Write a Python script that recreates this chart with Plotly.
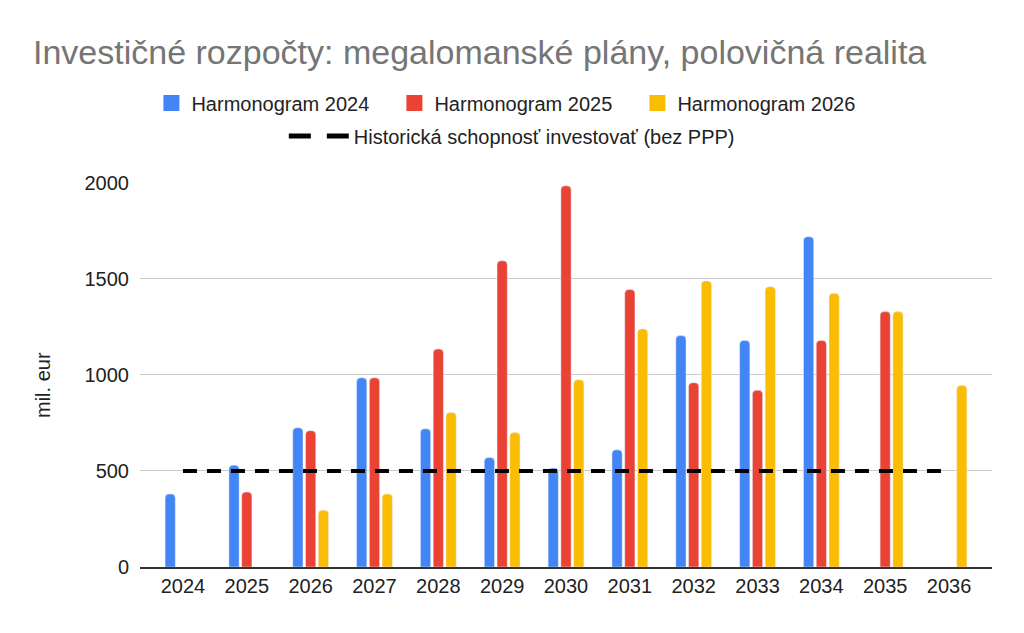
import plotly.graph_objects as go

years = ["2024", "2025", "2026", "2027", "2028", "2029", "2030",
         "2031", "2032", "2033", "2034", "2035", "2036"]

# mil. eur, None = no value for that year
harm_2024 = [380, 530, 725, 985, 720, 570, 515, 610, 1205, 1180, 1720, None, None]
harm_2025 = [None, 390, 710, 985, 1135, 1595, 1985, 1445, 960, 920, 1180, 1330, None]
harm_2026 = [None, None, 295, 380, 805, 700, 975, 1240, 1490, 1460, 1425, 1330, 945]
historical = [500] * len(years)

series = [
    ("Harmonogram 2024", harm_2024, "#4285F4"),
    ("Harmonogram 2025", harm_2025, "#EA4335"),
    ("Harmonogram 2026", harm_2026, "#FBBC04"),
]
line_name = "Historická schopnosť investovať (bez PPP)"

font_family = "Liberation Sans, Arial, sans-serif"

fig = go.Figure()

for name, vals, color in series:
    fig.add_trace(go.Bar(x=years, y=vals, name=name, marker_color=color,
                         showlegend=False))
fig.add_trace(go.Scatter(x=years, y=historical, mode="lines", name=line_name,
                         line=dict(color="black", width=4, dash="14px,10px"),
                         showlegend=False))

# legend entries (bigger swatches like the original)
for name, vals, color in series:
    fig.add_trace(go.Scatter(x=[None], y=[None], mode="markers", name=name,
                             marker=dict(symbol="square", size=16, color=color),
                             legend="legend"))
fig.add_trace(go.Scatter(x=[None], y=[None], mode="lines", name=line_name,
                         line=dict(color="black", width=5, dash="22px,16px"),
                         legend="legend2"))

fig.update_layout(
    width=1024, height=633,
    margin=dict(l=132, r=40, t=174, b=74),
    paper_bgcolor="white", plot_bgcolor="white",
    font=dict(family=font_family, size=20, color="#222222"),
    barmode="group", bargap=0.4, bargroupgap=0.2, barcornerradius=4,
    title=dict(text="Investičné rozpočty: megalomanské plány, polovičná realita",
               x=25 / 1024, xref="container", xanchor="left",
               y=1 - 44 / 633, yref="container", yanchor="middle",
               font=dict(size=34, color="#757575")),
    legend=dict(orientation="h", xref="container", x=0.496, xanchor="center",
                yref="container", y=1 - 95 / 633, yanchor="middle",
                font=dict(size=20), itemwidth=30, entrywidth=198,
                bgcolor="rgba(0,0,0,0)"),
    legend2=dict(orientation="h", xref="container", x=0.492, xanchor="center",
                 yref="container", y=1 - 128 / 633, yanchor="middle",
                 font=dict(size=20), itemwidth=60, bgcolor="rgba(0,0,0,0)"),
    annotations=[dict(text="mil. eur", textangle=-90, showarrow=False,
                      xref="paper", yref="paper", x=(43 - 140) / 852,
                      y=(567 - 385) / 385, xanchor="center", yanchor="middle",
                      font=dict(size=20))],
)

fig.update_xaxes(type="category", range=[-0.673, 12.673], showgrid=False,
                 showline=True, linecolor="#333333", linewidth=2, ticks="",
                 tickfont=dict(size=20))
fig.update_yaxes(range=[0, 2005], tickvals=[0, 500, 1000, 1500, 2000],
                 showgrid=True, gridcolor="#cccccc", gridwidth=1,
                 zeroline=False, showline=False, ticks="", ticklabelstandoff=10)

fig.write_html("out.html")
